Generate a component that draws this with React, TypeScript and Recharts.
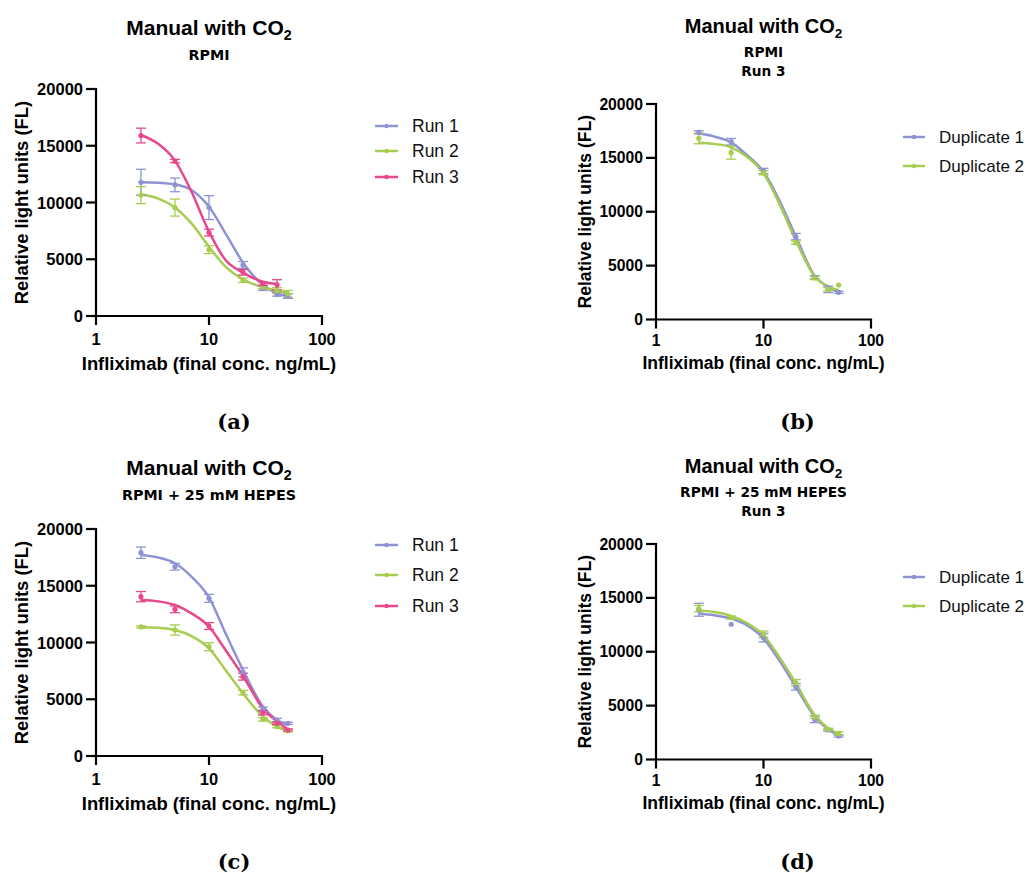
import { ComposedChart, ErrorBar, Line, ReferenceLine, Scatter, XAxis, YAxis } from "recharts";

const BLUE = "#8f93d3";
const GREEN = "#a6cd4f";
const PINK = "#e8488b";

const SANS = '"Liberation Sans", Arial, sans-serif';
const WIDE = '"DejaVu Sans", Verdana, sans-serif';
const SERIF = '"DejaVu Serif", serif';

// measured concentrations (ng/mL) and the concentrations the fitted curves are read at
const conc = [2.5, 5, 10, 20, 30, 40, 50];
const fitConc = [2.5, 3.5, 5, 7, 10, 14, 20, 30, 40, 50];

const xTicks = [1, 10, 100];
const yTicks = [0, 5000, 10000, 15000, 20000];

// (a) RPMI
const rpmiRun1 = [11780, 11550, 9550, 4500, 2450, 1900, 1750];
const rpmiRun1Sd = [1150, 600, 1050, 300, 200, 150, 200];
const rpmiRun1Fit = [11780, 11750, 11600, 11100, 9630, 7280, 4700, 2730, 2000, 1760];
const rpmiRun2 = [10650, 9550, 5850, 3150, 2550, 2250, 1950];
const rpmiRun2Sd = [750, 750, 350, 200, 150, 250, 300];
const rpmiRun2Fit = [10720, 10370, 9570, 8160, 6110, 4350, 3230, 2530, 2230, 2090];
const rpmiRun3 = [15900, 13650, 7350, 3850, 2850, 2750];
const rpmiRun3Sd = [650, 150, 300, 250, 150, 450];
const rpmiRun3Fit = [15950, 15210, 13690, 10950, 7430, 4930, 3820, 3020, 2820];

// (b) RPMI, run 3 duplicates
const rpmiDup1 = [17370, 16500, 13780, 7690, 3910, 2800, 2520];
const rpmiDup1Sd = [150, 300, 250, 300, 150, 300, 100];
const rpmiDup1Fit = [17280, 16970, 16440, 15270, 13720, 11090, 7690, 4040, 3050, 2580];
const rpmiDup2 = [16810, 15480, 13620, 7130, 3850, 2800, 3200];
const rpmiDup2Sd = [500, 600, 200, 150, 150, 150, null];
const rpmiDup2Fit = [16410, 16290, 15980, 15110, 13570, 10780, 7310, 3970, 3050, 2740];

// (c) RPMI + 25 mM HEPES
const hepesRun1 = [17910, 16680, 13890, 7370, 4110, 3170, 2880];
const hepesRun1Sd = [500, 300, 350, 400, 200, 150, 100];
const hepesRun1Fit = [17710, 17500, 16980, 15800, 13980, 10810, 7580, 4350, 3170, 2730];
const hepesRun2 = [11370, 11100, 9630, 5580, 3230, 2590, 2230];
const hepesRun2Sd = [100, 450, 350, 200, 150, 100, 100];
const hepesRun2Fit = [11340, 11310, 11100, 10570, 9490, 7580, 5520, 3470, 2590, 2200];
const hepesRun3 = [14040, 12920, 11450, 6990, 3820, 2880, 2290];
const hepesRun3Sd = [450, 300, 300, 300, 200, 100, 100];
const hepesRun3Fit = [13740, 13630, 13300, 12570, 11400, 9340, 7050, 4200, 3020, 2350];

// (d) RPMI + 25 mM HEPES, run 3 duplicates
const hepesDup1 = [13900, 12550, 11310, 6740, 3720, 2730, 2180];
const hepesDup1Sd = [600, null, 400, 300, 300, 100, 100];
const hepesDup1Fit = [13540, 13380, 13080, 12460, 11220, 9210, 6740, 3960, 2800, 2180];
const hepesDup2 = [14000, 13170, 11620, 7120, 3960, 2800, 2420];
const hepesDup2Sd = [300, 150, 300, 300, 150, 100, 150];
const hepesDup2Fit = [13840, 13690, 13320, 12670, 11530, 9520, 7060, 4120, 2890, 2360];

interface Series {
  name: string;
  color: string;
  values: number[];
  sd: (number | null)[];
  fit: number[];
}

interface Geometry {
  width: number;
  height: number;
  plotLeft: number;
  plotRight: number;
  plotTop: number;
  plotBottom: number;
  tickFont: number;
  xTickGap: number;
  titleFont: number;
  titleBaseline: number;
  subFont: number;
  subBaselines: number[];
  labelFont: number;
  yLabelX: number;
  xLabelBaseline: number;
  legendFont: number;
  legendLine: [number, number];
  legendText: number;
  captionX: number;
  captionY: number;
}

interface PanelSpec {
  x: number;
  y: number;
  geo: Geometry;
  subtitle: string[];
  caption: string;
  legendRows: number[];
  series: Series[];
}

const geoWide: Geometry = {
  width: 340,
  height: 380,
  plotLeft: 96,
  plotRight: 322,
  plotTop: 89,
  plotBottom: 316,
  tickFont: 16.5,
  xTickGap: 17,
  titleFont: 21,
  titleBaseline: 34.5,
  subFont: 14.3,
  subBaselines: [59.5],
  labelFont: 18.4,
  yLabelX: 21.7,
  xLabelBaseline: 370,
  legendFont: 17.5,
  legendLine: [375, 398],
  legendText: 412,
  captionX: 234,
  captionY: 421,
};

const geoNarrow: Geometry = {
  width: 330,
  height: 380,
  plotLeft: 96,
  plotRight: 311,
  plotTop: 104,
  plotBottom: 319.5,
  tickFont: 15.7,
  xTickGap: 15.5,
  titleFont: 20,
  titleBaseline: 33.3,
  subFont: 13.7,
  subBaselines: [56.7, 76],
  labelFont: 17.5,
  yLabelX: 25,
  xLabelBaseline: 369.3,
  legendFont: 17,
  legendLine: [343, 365],
  legendText: 379,
  captionX: 237.5,
  captionY: 421,
};

const panels: PanelSpec[] = [
  {
    x: 0,
    y: 0,
    geo: geoWide,
    subtitle: ["RPMI"],
    caption: "(a)",
    legendRows: [126, 151, 177],
    series: [
      { name: "Run 1", color: BLUE, values: rpmiRun1, sd: rpmiRun1Sd, fit: rpmiRun1Fit },
      { name: "Run 2", color: GREEN, values: rpmiRun2, sd: rpmiRun2Sd, fit: rpmiRun2Fit },
      { name: "Run 3", color: PINK, values: rpmiRun3, sd: rpmiRun3Sd, fit: rpmiRun3Fit },
    ],
  },
  {
    x: 560,
    y: 0,
    geo: geoNarrow,
    subtitle: ["RPMI", "Run 3"],
    caption: "(b)",
    legendRows: [137, 166],
    series: [
      { name: "Duplicate 1", color: BLUE, values: rpmiDup1, sd: rpmiDup1Sd, fit: rpmiDup1Fit },
      { name: "Duplicate 2", color: GREEN, values: rpmiDup2, sd: rpmiDup2Sd, fit: rpmiDup2Fit },
    ],
  },
  {
    x: 0,
    y: 440,
    geo: geoWide,
    subtitle: ["RPMI + 25 mM HEPES"],
    caption: "(c)",
    legendRows: [105, 135, 166],
    series: [
      { name: "Run 1", color: BLUE, values: hepesRun1, sd: hepesRun1Sd, fit: hepesRun1Fit },
      { name: "Run 2", color: GREEN, values: hepesRun2, sd: hepesRun2Sd, fit: hepesRun2Fit },
      { name: "Run 3", color: PINK, values: hepesRun3, sd: hepesRun3Sd, fit: hepesRun3Fit },
    ],
  },
  {
    x: 560,
    y: 440,
    geo: geoNarrow,
    subtitle: ["RPMI + 25 mM HEPES", "Run 3"],
    caption: "(d)",
    legendRows: [137, 166],
    series: [
      { name: "Duplicate 1", color: BLUE, values: hepesDup1, sd: hepesDup1Sd, fit: hepesDup1Fit },
      { name: "Duplicate 2", color: GREEN, values: hepesDup2, sd: hepesDup2Sd, fit: hepesDup2Fit },
    ],
  },
];

const AXIS_W = 2.2;

const toPoints = (s: Series) =>
  s.values.map((y, i) => ({ x: conc[i], y, err: s.sd[i] }));

const toCurve = (s: Series) => s.fit.map((y, i) => ({ x: fitConc[i], y }));

function PanelChart({ spec }: { spec: PanelSpec }) {
  const g = spec.geo;
  const xAxisHeight = 30;
  const font = { fontFamily: SANS, fontWeight: 700, fontSize: g.tickFont, fill: "#000" };

  // tick marks and labels drawn together so the marks get the same heavy stroke as the axes
  const yTick = (p: any) => (
    <g>
      <line x1={g.plotLeft - 10} x2={g.plotLeft} y1={p.y} y2={p.y} stroke="#000" strokeWidth={AXIS_W} />
      <text x={g.plotLeft - 13} y={p.y} textAnchor="end" dominantBaseline="central" {...font}>
        {p.payload.value}
      </text>
    </g>
  );
  const xTick = (p: any) => (
    <g>
      <line x1={p.x} x2={p.x} y1={g.plotBottom} y2={g.plotBottom + 9} stroke="#000" strokeWidth={AXIS_W} />
      <text x={p.x} y={g.plotBottom + g.xTickGap} textAnchor="middle" dominantBaseline="hanging" {...font}>
        {p.payload.value}
      </text>
    </g>
  );

  return (
    <div style={{ position: "absolute", left: spec.x, top: spec.y }}>
      <ComposedChart
        width={g.width}
        height={g.height}
        margin={{
          top: g.plotTop,
          right: g.width - g.plotRight,
          bottom: g.height - g.plotBottom - xAxisHeight,
          left: 0,
        }}
      >
        <XAxis
          type="number"
          dataKey="x"
          scale="log"
          domain={[1, 100]}
          ticks={xTicks}
          interval={0}
          allowDataOverflow
          height={xAxisHeight}
          axisLine={false}
          tickLine={false}
          tick={xTick}
        />
        <YAxis
          type="number"
          dataKey="y"
          domain={[0, 20000]}
          ticks={yTicks}
          interval={0}
          allowDataOverflow
          width={g.plotLeft}
          axisLine={false}
          tickLine={false}
          tick={yTick}
        />
        <ReferenceLine x={1} stroke="#000" strokeWidth={AXIS_W} strokeLinecap="square" />
        <ReferenceLine y={0} stroke="#000" strokeWidth={AXIS_W} strokeLinecap="square" />
        {spec.series.map((s) => (
          <Line
            key={`fit-${s.name}`}
            data={toCurve(s)}
            dataKey="y"
            type="monotone"
            stroke={s.color}
            strokeWidth={2.5}
            dot={false}
            activeDot={false}
            isAnimationActive={false}
          />
        ))}
        {spec.series.map((s) => (
          <Scatter
            key={`pts-${s.name}`}
            data={toPoints(s)}
            dataKey="y"
            fill={s.color}
            isAnimationActive={false}
            shape={(p: any) => <circle cx={p.cx} cy={p.cy} r={2.6} fill={s.color} />}
          >
            <ErrorBar dataKey="err" direction="y" width={5} stroke={s.color} strokeWidth={1.3} />
          </Scatter>
        ))}
      </ComposedChart>
    </div>
  );
}

function PanelText({ spec }: { spec: PanelSpec }) {
  const g = spec.geo;
  const cx = (g.plotLeft + g.plotRight) / 2;
  const cy = (g.plotTop + g.plotBottom) / 2;
  return (
    <g transform={`translate(${spec.x},${spec.y})`}>
      <text x={cx} y={g.titleBaseline} textAnchor="middle" fontFamily={SANS} fontWeight={700} fontSize={g.titleFont}>
        Manual with CO
        <tspan dy={g.titleFont * 0.25} fontSize={g.titleFont * 0.68}>
          2
        </tspan>
      </text>
      {spec.subtitle.map((line, i) => (
        <text
          key={line}
          x={cx}
          y={g.subBaselines[i]}
          textAnchor="middle"
          fontFamily={WIDE}
          fontWeight={700}
          fontSize={g.subFont}
        >
          {line}
        </text>
      ))}
      <text
        transform={`translate(${g.yLabelX},${cy}) rotate(-90)`}
        textAnchor="middle"
        dominantBaseline="central"
        fontFamily={SANS}
        fontWeight={700}
        fontSize={g.labelFont}
      >
        Relative light units (FL)
      </text>
      <text x={cx} y={g.xLabelBaseline} textAnchor="middle" fontFamily={SANS} fontWeight={700} fontSize={g.labelFont}>
        Infliximab (final conc. ng/mL)
      </text>
      {spec.series.map((s, i) => {
        const ry = spec.legendRows[i];
        const [x1, x2] = g.legendLine;
        return (
          <g key={s.name}>
            <line x1={x1} x2={x2} y1={ry} y2={ry} stroke={s.color} strokeWidth={2.5} />
            <circle cx={(x1 + x2) / 2} cy={ry} r={2.2} fill={s.color} />
            <text x={g.legendText} y={ry} dominantBaseline="central" fontFamily={SANS} fontSize={g.legendFont} fill="#111">
              {s.name}
            </text>
          </g>
        );
      })}
      <text x={g.captionX} y={g.captionY} textAnchor="middle" dominantBaseline="central" fontFamily={SERIF} fontWeight={700} fontSize={21}>
        {spec.caption}
      </text>
    </g>
  );
}

export default function App() {
  return (
    <div style={{ position: "absolute", left: 0, top: 0, width: 1028, height: 873, background: "#fff" }}>
      {panels.map((p) => (
        <PanelChart key={p.caption} spec={p} />
      ))}
      <svg
        width={1028}
        height={873}
        style={{ position: "absolute", left: 0, top: 0, pointerEvents: "none" }}
      >
        {panels.map((p) => (
          <PanelText key={p.caption} spec={p} />
        ))}
      </svg>
    </div>
  );
}
